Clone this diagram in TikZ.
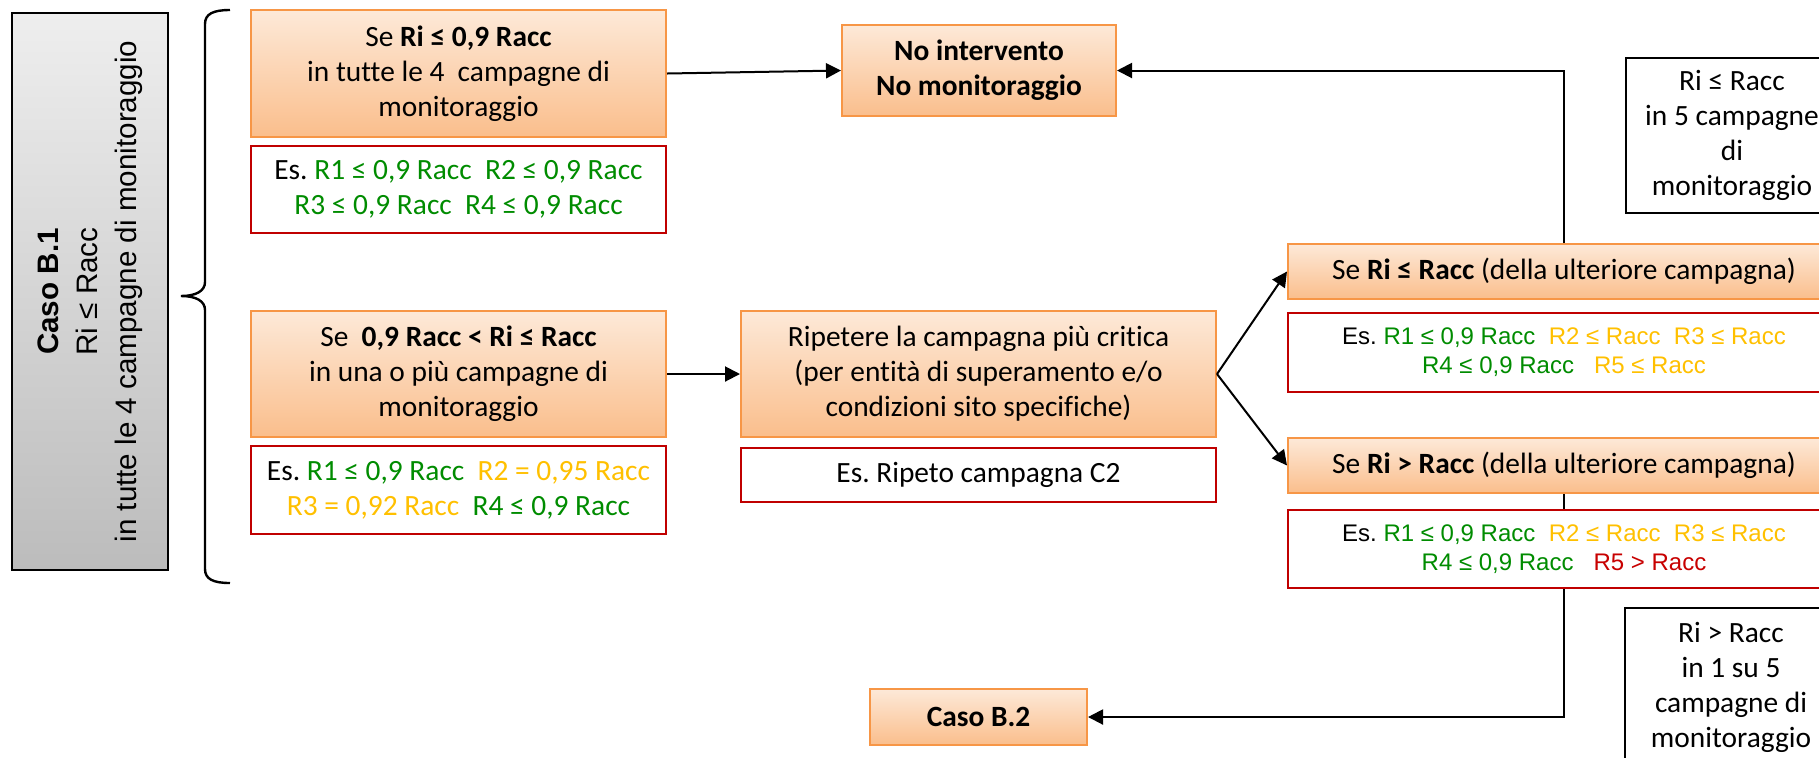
\documentclass[tikz,border=0pt]{standalone}
\usepackage{fontspec}
\setmainfont{Carlito}[Ligatures=NoCommon]
\newfontfamily\arialfont{Liberation Sans}
\usetikzlibrary{arrows.meta,backgrounds}
\frenchspacing

% one unit of the drawing grid
\newdimen\pxu \pxu=0.5pt

\definecolor{orangeline}{RGB}{247,150,70}
\definecolor{orangetop}{RGB}{253,233,216}
\definecolor{orangebot}{RGB}{250,190,140}
\definecolor{boxred}{RGB}{192,0,0}
\definecolor{okgreen}{RGB}{0,140,0}
\definecolor{warnyellow}{RGB}{255,192,0}
\definecolor{badred}{RGB}{200,0,0}
\definecolor{graytop}{RGB}{238,238,238}
\definecolor{graybot}{RGB}{188,188,188}

\newcommand\boxfont{\fontsize{14.7pt}{17.5pt}\selectfont}
\newcommand\exfont{\arialfont\fontsize{12pt}{14.5pt}\selectfont}
\newcommand\sidefont{\arialfont\fontsize{14.8pt}{19.5pt}\selectfont}
\newcommand\okg[1]{\textcolor{okgreen}{#1}}
\newcommand\wrn[1]{\textcolor{warnyellow}{#1}}
\newcommand\bad[1]{\textcolor{badred}{#1}}

\tikzset{
  sz/.style 2 args={minimum width=#1\pxu, minimum height=#2\pxu},
  orangebox/.style={draw=orangeline, line width=1pt, top color=orangetop,
    bottom color=orangebot, inner sep=0pt, align=center, font=\boxfont},
  examplebox/.style={draw=boxred, line width=1pt, fill=white, inner sep=0pt,
    align=center, font=\boxfont},
  notebox/.style={draw=black, line width=1pt, fill=white, inner sep=0pt,
    align=center, font=\boxfont},
  graybox/.style={draw=black, line width=1.3pt, top color=graytop,
    bottom color=graybot, inner sep=0pt},
  link/.style={line width=1pt, -{Triangle[length=7.5pt,width=7.5pt]}},
  bracepath/.style={line width=1.2pt},
}

\begin{document}
\begin{tikzpicture}[x=0.5pt,y=-0.5pt]
\useasboundingbox (0,0) rectangle (1819,757);
\clip (0,0) rectangle (1819,757);

% left case label
\node[graybox, sz={156}{557}] (caseB1) at (90,291.5) {};
\node[rotate=90, align=center, font=\sidefont, inner sep=0pt] (caseB1txt) at (caseB1.center)
  {\textbf{Caso B.1}\\Ri ≤ Racc\\in tutte le 4 campagne di monitoraggio};

% curly brace
\draw[bracepath] (230,10) .. controls (213,10) and (205,14) .. (205,24) -- (205,282)
  .. controls (205,291) and (196,296) .. (181,296)
  .. controls (196,296) and (205,301) .. (205,310) -- (205,569)
  .. controls (205,579) and (213,583) .. (230,583);

% first branch
\node[orangebox, sz={415}{127}] (allok) at (458.5,73.5)
  {Se \textbf{Ri ≤ 0,9 Racc}\\in tutte le 4~ campagne di\\monitoraggio};
\node[examplebox, sz={415}{87}] (allokex) at (458.5,189.5)
  {Es. \okg{R1 ≤ 0,9 Racc~ R2 ≤ 0,9 Racc}\\\okg{R3 ≤ 0,9 Racc~ R4 ≤ 0,9 Racc}};

% second branch
\node[orangebox, sz={415}{126}] (near) at (458.5,374)
  {Se~ \textbf{0,9 Racc < Ri ≤ Racc}\\in una o più campagne di\\monitoraggio};
\node[examplebox, sz={415}{88}] (nearex) at (458.5,490)
  {Es. \okg{R1 ≤ 0,9 Racc}~ \wrn{R2 = 0,95 Racc}\\\wrn{R3 = 0,92 Racc}~ \okg{R4 ≤ 0,9 Racc}};

% outcomes in the middle column
\node[orangebox, sz={274}{91}] (noint) at (979,70.5)
  {\textbf{No intervento}\\\textbf{No monitoraggio}};
\node[orangebox, sz={475}{126}] (repeat) at (978.5,374)
  {Ripetere la campagna più critica\\(per entità di superamento e/o\\condizioni sito specifiche)};
\node[examplebox, sz={475}{54}] (repeatex) at (978.5,475) {Es. Ripeto campagna C2};
\node[orangebox, sz={217}{56}] (caseB2) at (978.5,717) {\textbf{Caso B.2}};

% results of the further campaign
\node[orangebox, sz={552}{55}] (within) at (1564,271.5)
  {Se \textbf{Ri ≤ Racc} (della ulteriore campagna)};
\node[examplebox, sz={552}{79}, font=\exfont] (withinex) at (1564,352.5)
  {Es. \okg{R1 ≤ 0,9 Racc}~ \wrn{R2 ≤ Racc}~ \wrn{R3 ≤ Racc}\\\okg{R4 ≤ 0,9 Racc}~~ \wrn{R5 ≤ Racc}};
\node[orangebox, sz={552}{55}] (above) at (1564,465.5)
  {Se \textbf{Ri > Racc} (della ulteriore campagna)};
\node[examplebox, sz={552}{78}, font=\exfont] (aboveex) at (1564,549)
  {Es. \okg{R1 ≤ 0,9 Racc}~ \wrn{R2 ≤ Racc}~ \wrn{R3 ≤ Racc}\\\okg{R4 ≤ 0,9 Racc}~~ \bad{R5 > Racc}};

% side notes
\node[notebox, sz={212}{155}] (noteok) at (1732,135.5)
  {Ri ≤ Racc\\in 5 campagne\\di\\monitoraggio};
\node[notebox, sz={212}{158}] (notebad) at (1731,687)
  {Ri > Racc\\in 1 su 5\\campagne di\\monitoraggio};

% connectors
\draw[link] (allok.east) -- (noint.west);
\draw[link] (near.east) -- (repeat.west);
\draw[link] (repeat.east) -- (within.west);
\draw[link] (repeat.east) -- (above.west);
\draw[link] (within.north) |- (noint.east);
\begin{scope}[on background layer]
  \draw[link] (above.south) |- (caseB2.east);
\end{scope}
\end{tikzpicture}
\end{document}
